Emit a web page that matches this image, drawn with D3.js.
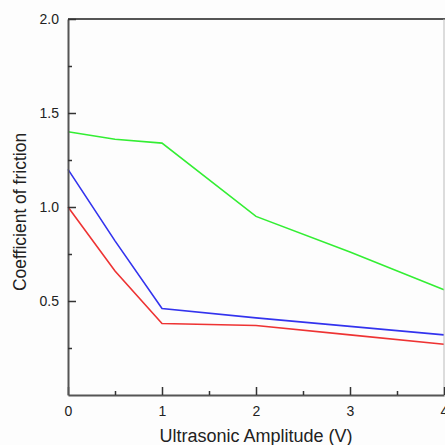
<!DOCTYPE html>
<html>
<head>
<meta charset="utf-8">
<script src="https://cdn.jsdelivr.net/npm/d3@7"></script>
<style>
  body { margin: 0; background: #fdfdfd; }
  svg { display: block; font-family: "Liberation Sans", Arial, sans-serif; }
</style>
</head>
<body>
<div id="chart"></div>
<script>
const amplitude = [0, 0.5, 1, 2, 3, 4];
const greenValues = [1.4, 1.36, 1.34, 0.95, 0.76, 0.56];
const blueValues = [1.2, 0.82, 0.46, 0.41, 0.365, 0.32];
const redValues = [1.0, 0.66, 0.38, 0.37, 0.32, 0.27];
const xTicks = [0, 1, 2, 3, 4];
const yTicks = [0.5, 1.0, 1.5, 2.0];

const width = 445;
const height = 445;
const plotLeft = 68, plotRight = 444, plotTop = 19, plotBottom = 395;

const svg = d3.select("#chart")
  .append("svg")
  .attr("width", width)
  .attr("height", height);

const x = d3.scaleLinear().domain([0, 4]).range([plotLeft, plotRight]);
const y = d3.scaleLinear().domain([0, 2]).range([plotBottom, plotTop]);

const series = [
  { values: greenValues, color: "#33ee33" },
  { values: blueValues, color: "#3333ee" },
  { values: redValues, color: "#ee3333" },
];

const line = d3.line()
  .x((d, i) => x(amplitude[i]))
  .y((d) => y(d));

svg.selectAll("path.series")
  .data(series)
  .join("path")
  .attr("class", "series")
  .attr("d", (d) => line(d.values))
  .attr("fill", "none")
  .attr("stroke", (d) => d.color)
  .attr("stroke-width", 1.6);

// frame: top line and right edge
svg.append("line")
  .attr("x1", plotLeft).attr("x2", plotRight + 1)
  .attr("y1", plotTop).attr("y2", plotTop)
  .attr("stroke", "#555").attr("stroke-width", 2);
svg.append("line")
  .attr("x1", plotRight).attr("x2", plotRight)
  .attr("y1", plotTop).attr("y2", plotBottom)
  .attr("stroke", "#bbb").attr("stroke-width", 1);

// x axis with inward ticks
const xAxis = svg.append("g")
  .attr("transform", `translate(0,${plotBottom})`)
  .call(d3.axisBottom(x).tickValues(d3.range(0, 4.01, 0.5))
    .tickSizeInner(-8).tickSizeOuter(0)
    .tickFormat((d) => (xTicks.includes(d) ? d3.format("d")(d) : "")));
xAxis.selectAll(".tick line")
  .attr("y2", (d) => (Number.isInteger(d) ? -8 : -4));
xAxis.selectAll(".tick text")
  .attr("y", 11)
  .attr("font-size", 14)
  .attr("fill", "#222");

// y axis with inward ticks
const yAxis = svg.append("g")
  .attr("transform", `translate(${plotLeft},0)`)
  .call(d3.axisLeft(y).tickValues(d3.range(0.25, 2.01, 0.25))
    .tickSizeInner(-8).tickSizeOuter(0)
    .tickFormat((d) => (yTicks.some((t) => Math.abs(t - d) < 1e-9) ? d3.format(".1f")(d) : "")));
yAxis.selectAll(".tick line")
  .attr("x2", (d) => (Math.abs(d * 2 - Math.round(d * 2)) < 1e-9 ? 8 : 4));
yAxis.selectAll(".tick text")
  .attr("x", -9)
  .attr("font-size", 14)
  .attr("fill", "#222");

svg.selectAll(".domain")
  .attr("stroke", "#555")
  .attr("stroke-width", 2);
svg.selectAll(".tick line")
  .attr("stroke", "#333")
  .attr("stroke-width", 1.5);

svg.append("text")
  .attr("x", 256)
  .attr("y", 442)
  .attr("text-anchor", "middle")
  .attr("font-size", 18)
  .attr("fill", "#222")
  .text("Ultrasonic Amplitude (V)");

svg.append("text")
  .attr("transform", "translate(26,212) rotate(-90)")
  .attr("text-anchor", "middle")
  .attr("font-size", 17.5)
  .attr("fill", "#222")
  .text("Coefficient of friction");
</script>
</body>
</html>
